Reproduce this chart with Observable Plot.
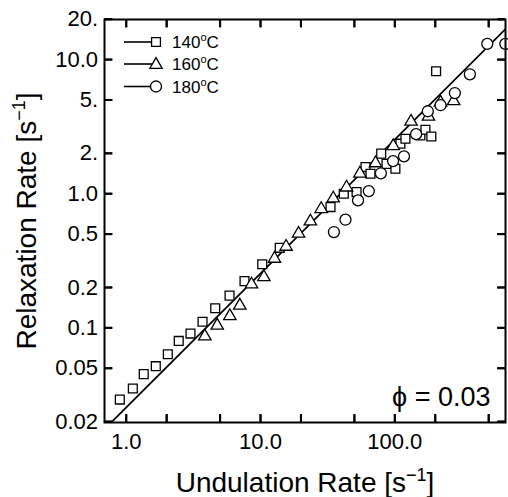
<!DOCTYPE html>
<html><head><meta charset="utf-8">
<script src="https://cdn.jsdelivr.net/npm/d3@7"></script>
<script src="https://cdn.jsdelivr.net/npm/@observablehq/plot@0.6"></script>
<style>html,body{margin:0;padding:0;background:#fff;overflow:hidden;}</style>
</head><body><div id="chart"></div>
<script>
// 140 °C (squares)
const u140 = [0.896,1.12,1.35,1.66,2.04,2.46,3.01,3.70,4.60,5.88,7.60,10.3,13.9,33.2,41.7,51.9,60.5,65.9,79.2,86.7,101,110,120,155,169,187,203];
const r140 = [0.0292,0.0353,0.0452,0.0518,0.0636,0.0799,0.0907,0.111,0.140,0.174,0.223,0.298,0.395,0.795,1.00,1.03,1.58,1.41,1.99,1.67,1.535,2.36,2.57,2.72,3.00,2.67,8.18];
// 160 °C (triangles)
const u160 = [3.85,4.76,5.91,7.01,8.57,10.6,12.7,15.5,19.2,23.5,28.3,34.8,43.7,54.9,71.8,97.3,132,178,219,274];
const r160 = [0.0866,0.104,0.1226,0.1466,0.211,0.239,0.328,0.403,0.504,0.622,0.770,0.923,1.114,1.416,1.69,2.27,3.45,3.76,4.79,4.91];
// 180 °C (circles)
const u180 = [35.2,42.9,53.2,64.0,78.7,97.0,117,144,176,219,280,362,488,665];
const r180 = [0.518,0.640,0.892,1.046,1.42,1.75,1.90,2.78,4.12,4.57,5.63,7.77,13.1,13.1];
// fitted line (slope 1) end points
const fitU = [0.784, 667];
const fitR = [0.02, 16.9];

const seriesNames = ["140", "160", "180"];
const xTicks = [1,2,5,10,20,50,100,200,500];
const xTickLabels = ["1.0","","","10.0","","","100.0","",""];
const yTicks = [0.02,0.05,0.1,0.2,0.5,1,2,5,10,20];
const yTickLabels = ["0.02","0.05","0.1","0.2","0.5","1.0","2.","5.","10.0","20."];
const xTitle = "Undulation Rate [s−1]";
const yTitle = "Relaxation Rate [s−1]";
const note = "ϕ = 0.03";

const FONT = "'Liberation Sans', Arial, Helvetica, sans-serif";
const toRows = (us, rs) => us.map((u, i) => ({u, r: rs[i]}));
const d140 = toRows(u140, r140), d160 = toRows(u160, r160), d180 = toRows(u180, r180);
const fit = toRows(fitU, fitR);
const xLab = new Map(xTicks.map((t, i) => [t, xTickLabels[i]]));
const yLab = new Map(yTicks.map((t, i) => [t, yTickLabels[i]]));

const W = 508, H = 497, ML = 104, MR = 3, MT = 19, MB = 75;
const FW = W - ML - MR, FH = H - MT - MB;
const R_SQ = 5.0, R_TRI = 4.6, R_CIR = 5.5;
const TICK = 8;

// custom tick-shaped symbols pointing into the frame
const tickUp = {draw(c) { c.moveTo(0, 0); c.lineTo(0, -TICK); }};
const tickDown = {draw(c) { c.moveTo(0, 0); c.lineTo(0, TICK); }};
const tickRight = {draw(c) { c.moveTo(0, 0); c.lineTo(TICK, 0); }};
const tickLeft = {draw(c) { c.moveTo(0, 0); c.lineTo(-TICK, 0); }};

const chart = Plot.plot({
  width: W, height: H,
  marginLeft: ML, marginRight: MR, marginTop: MT, marginBottom: MB,
  style: {fontFamily: FONT, background: "white", color: "black"},
  x: {type: "log", domain: [0.689, 667], axis: null},
  y: {type: "log", domain: [0.0197, 19.9], axis: null},
  marks: [
    Plot.line(fit, {x: "u", y: "r", stroke: "black", strokeWidth: 1.8, clip: true}),
    Plot.dot(d140, {x: "u", y: "r", symbol: "square", r: R_SQ, fill: "white", stroke: "black", strokeWidth: 1.3}),
    Plot.dot(d160, {x: "u", y: "r", symbol: "triangle", r: R_TRI, fill: "white", stroke: "black", strokeWidth: 1.3}),
    Plot.dot(d180, {x: "u", y: "r", symbol: "circle", r: R_CIR, fill: "white", stroke: "black", strokeWidth: 1.3}),
    Plot.frame({stroke: "black", strokeWidth: 2}),
    // inward ticks on all four sides (rules)
    Plot.ruleX(xTicks, {x: d => d, insetTop: FH - TICK, stroke: "black", strokeWidth: 2}),
    Plot.ruleX(xTicks, {x: d => d, insetBottom: FH - TICK, stroke: "black", strokeWidth: 2}),
    Plot.ruleY(yTicks, {y: d => d, insetRight: FW - TICK, stroke: "black", strokeWidth: 2}),
    Plot.ruleY(yTicks, {y: d => d, insetLeft: FW - TICK, stroke: "black", strokeWidth: 2}),
    // inward ticks (tick-shaped symbols anchored on the frame)
    Plot.dot(xTicks, {x: d => d, frameAnchor: "bottom", symbol: tickUp, fill: "none", stroke: "black", strokeWidth: 2}),
    Plot.dot(xTicks, {x: d => d, frameAnchor: "top", symbol: tickDown, fill: "none", stroke: "black", strokeWidth: 2}),
    Plot.dot(yTicks, {y: d => d, frameAnchor: "left", symbol: tickRight, fill: "none", stroke: "black", strokeWidth: 2}),
    Plot.dot(yTicks, {y: d => d, frameAnchor: "right", symbol: tickLeft, fill: "none", stroke: "black", strokeWidth: 2}),
    // tick labels
    Plot.text(xTicks, {x: d => d, frameAnchor: "bottom", lineAnchor: "top", dy: 11, fontSize: 22, text: d => xLab.get(d)}),
    Plot.text(yTicks, {y: d => d, frameAnchor: "left", textAnchor: "end", lineAnchor: "middle", dx: -6.5, fontSize: 22, text: d => yLab.get(d)}),
    // titles and note
    Plot.text([xTitle], {frameAnchor: "bottom", textAnchor: "middle", lineAnchor: "bottom", dy: 69.5, fontSize: 28, text: d => d}),
    Plot.text([yTitle], {frameAnchor: "left", textAnchor: "middle", lineAnchor: "bottom", rotate: -90, dx: -69, fontSize: 28, text: d => d}),
    Plot.text([note], {frameAnchor: "bottom-right", textAnchor: "end", lineAnchor: "bottom", dx: -15, dy: -17, fontSize: 27, text: d => d})
  ]
});
document.getElementById("chart").appendChild(chart);

const svg = d3.select(chart);
// superscripts in axis titles
svg.selectAll("text").each(function () {
  const s = this.textContent;
  if (s === xTitle || s === yTitle) {
    const base = s.slice(0, s.indexOf("−1"));
    const t = d3.select(this);
    t.text("");
    t.append("tspan").text(base);
    t.append("tspan").attr("font-size", 18).attr("dy", -11).text("−1");
    t.append("tspan").attr("dy", 11).text("]");
  }
});

// legend (inside the plot, top-left)
const legend = svg.append("g").attr("font-family", FONT).attr("font-size", 17).attr("fill", "black").attr("text-anchor", "start");
const syms = [d3.symbolSquare, d3.symbolTriangle, d3.symbolCircle];
const radii = [R_SQ, R_TRI, R_CIR];
const rowY = [42, 64, 86.5];
seriesNames.forEach((name, i) => {
  const g = legend.append("g").attr("transform", `translate(0,${rowY[i]})`);
  g.append("line").attr("x1", 124).attr("x2", 152).attr("y1", 0).attr("y2", 0).attr("stroke", "black").attr("stroke-width", 1.6);
  g.append("path").attr("transform", `translate(156,${i === 1 ? 0.8 : 0})`)
    .attr("d", d3.symbol(syms[i], Math.PI * radii[i] * radii[i])())
    .attr("fill", "white").attr("stroke", "black").attr("stroke-width", 1.3);
  const t = g.append("text").attr("x", 172).attr("y", 6).attr("text-anchor", "start");
  t.append("tspan").text(name);
  t.append("tspan").attr("font-size", 11).attr("dy", -7).text("o");
  t.append("tspan").attr("dy", 7).text("C");
});
</script>
</body></html>
